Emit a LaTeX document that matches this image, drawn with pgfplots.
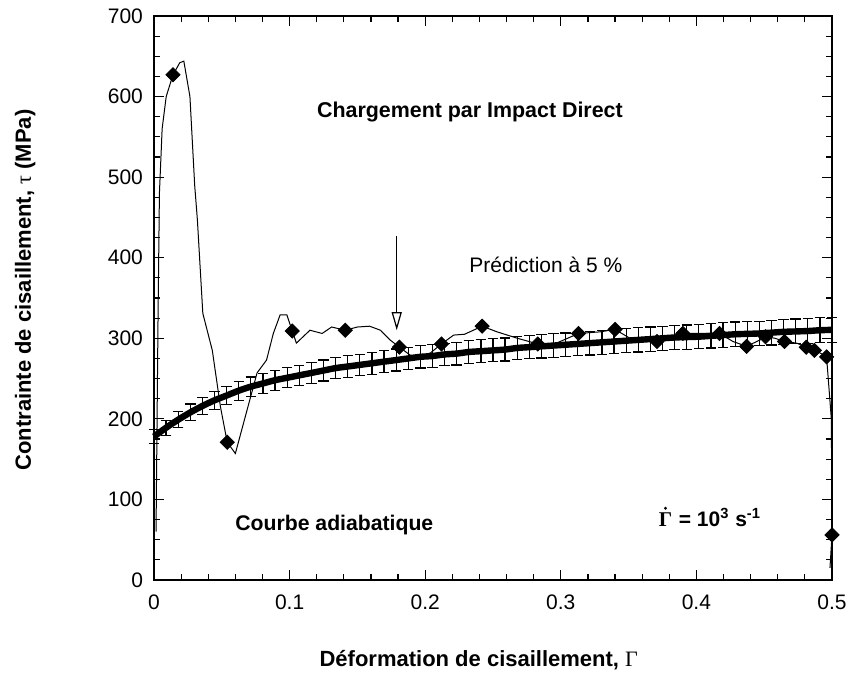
\documentclass[border=0pt]{standalone}
\usepackage{fontspec}
\setmainfont{Liberation Sans}
\newfontfamily\symb{Liberation Serif}
\usepackage{pgfplots}
\pgfplotsset{compat=1.18}
\usetikzlibrary{arrows.meta}
\begin{document}
\begin{tikzpicture}
\begin{axis}[
    at={(0,0)}, anchor=south west,
    scale only axis,
    width=339pt, height=282pt,
    xmin=0, xmax=0.5, ymin=0, ymax=700,
    xtick={0,0.1,0.2,0.3,0.4,0.5},
    xticklabels={0,0.1,0.2,0.3,0.4,0.5},
    ytick={0,100,200,300,400,500,600,700},
    minor x tick num=4, minor y tick num=3,
    tick align=inside,
    major tick length=5pt, minor tick length=3pt,
    tick style={black, line width=0.6pt},
    axis line style={line width=0.8pt},
    ticklabel style={font=\fontsize{10.5}{12}\selectfont},
    xticklabel style={yshift=-4pt},
    yticklabel style={xshift=-2pt},
    /pgf/number format/assume math mode=true,
    scaled ticks=false,
    clip=false,
    xlabel={D\'eformation de cisaillement, {\symb\mdseries Γ}},
    ylabel={Contrainte de cisaillement, {\symb\mdseries τ} (MPa)},
    label style={font=\bfseries\fontsize{11}{13}\selectfont},
    xlabel style={at={(axis description cs:0.479,-0.142)}, anchor=center},
    ylabel style={at={(axis description cs:-0.19,0.514)}, anchor=center},
]

% courbe adiabatique, barres a 5 %
\addplot[black, line width=3.2pt, smooth, no markers,
    error bars/.cd, y dir=both, y fixed relative=0.05,
    error bar style={line width=0.6pt},
    error mark options={black, line width=0.6pt, mark size=2.6pt, rotate=90}]
coordinates {
    (0.0000,178) (0.0089,189) (0.0179,199) (0.0268,208) (0.0357,216)
    (0.0446,223) (0.0536,229) (0.0625,235) (0.0714,240) (0.0804,244)
    (0.0893,248) (0.0982,251) (0.1071,254) (0.1161,257) (0.1250,260)
    (0.1339,263) (0.1429,265) (0.1518,267) (0.1607,269) (0.1696,271)
    (0.1786,273) (0.1875,275) (0.1964,277) (0.2054,278) (0.2143,280)
    (0.2232,281) (0.2321,283) (0.2411,284) (0.2500,285) (0.2589,286)
    (0.2679,288) (0.2768,289) (0.2857,290) (0.2946,291) (0.3036,292)
    (0.3125,293) (0.3214,294) (0.3304,295) (0.3393,296) (0.3482,297)
    (0.3571,298) (0.3661,299) (0.3750,300) (0.3839,301) (0.3929,301.5)
    (0.4018,302) (0.4107,303) (0.4196,304) (0.4286,305) (0.4375,305.5)
    (0.4464,306) (0.4554,307) (0.4643,308) (0.4732,308.5) (0.4821,309)
    (0.4911,310) (0.5000,310.5)
};

% essai
\addplot[black, line width=0.5pt] coordinates {
    (0.0015,60) (0.002,150) (0.003,330) (0.004,480) (0.006,560)
    (0.009,600) (0.014,627) (0.019,642) (0.022,644) (0.0265,600)
    (0.030,490) (0.032,447) (0.036,331) (0.043,285) (0.049,215)
    (0.054,171) (0.060,157) (0.068,207) (0.076,257) (0.083,273)
    (0.088,306) (0.093,329) (0.098,329) (0.102,309) (0.105,294)
    (0.115,310) (0.124,306) (0.131,314) (0.141,310) (0.150,314)
    (0.159,315) (0.167,310) (0.174,298) (0.181,289) (0.189,279)
    (0.196,277) (0.204,282) (0.212,293) (0.221,304) (0.229,305)
    (0.242,315) (0.253,308) (0.268,300) (0.283,293) (0.294,292)
    (0.305,300) (0.313,306) (0.329,308) (0.340,311) (0.353,298)
    (0.371,296) (0.383,302) (0.390,306) (0.405,306) (0.417,306)
    (0.427,296) (0.437,290) (0.447,298) (0.451,302) (0.458,300)
    (0.465,296) (0.474,294) (0.481,289) (0.487,285) (0.491,282)
    (0.496,277) (0.4995,200) (0.500,56) (0.4985,15)
};

\addplot[only marks, mark=square*, mark size=2.5pt,
    mark options={rotate=45, fill=black, draw=black}] coordinates {
    (0.014,627) (0.054,171) (0.102,309) (0.141,310) (0.181,289)
    (0.212,293) (0.242,315) (0.283,293) (0.313,306) (0.340,311)
    (0.371,296) (0.390,306) (0.417,306) (0.437,290) (0.451,302)
    (0.465,296) (0.481,289) (0.487,285) (0.496,277) (0.500,56)
};

\draw[line width=0.6pt, -{Triangle[open, length=9pt, width=5pt]}]
    (axis cs:0.179,427) -- (axis cs:0.179,310);

\node[font=\bfseries\fontsize{10.7}{12}\selectfont] at (axis cs:0.233,581)
    {Chargement par Impact Direct};
\node[font=\fontsize{10.5}{12}\selectfont] at (axis cs:0.289,391)
    {Pr\'ediction \`a 5 \%};
\node[font=\bfseries\fontsize{10.6}{12}\selectfont] at (axis cs:0.133,68)
    {Courbe adiabatique};
\node[font=\bfseries\fontsize{10.5}{12}\selectfont, anchor=base west,
    inner sep=0pt] (gd) at (axis cs:0.372,66) {\symb Γ};
\node[font=\bfseries\fontsize{10.5}{12}\selectfont, anchor=base west,
    inner sep=0pt] at (gd.base east)
    {\ = 10\textsuperscript{3} s\textsuperscript{-1}};
\fill ([yshift=2.2pt]gd.north) circle (0.8pt);
\end{axis}
\pgfresetboundingbox
\path[use as bounding box] (-77pt,-47pt) rectangle (347.5pt,290pt);
\end{tikzpicture}
\end{document}
